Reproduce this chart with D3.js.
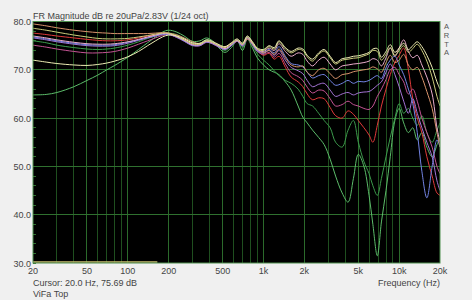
<!DOCTYPE html>
<html><head><meta charset="utf-8">
<script src="https://cdn.jsdelivr.net/npm/d3@7"></script>
<style>html,body{margin:0;padding:0;background:#f0f0f0;}svg{display:block;}</style>
</head><body>
<svg id="c" width="472" height="300"></svg>
<script>
const freqs = [20,25,30,40,50,60,70,80,100,120,140,160,180,200,
  230,260,300,340,380,420,470,520,580,640,700,760,830,900,
  1000,1100,1200,1300,1450,1600,1800,1950,2100,2300,2550,2800,3100,3400,3800,4200,4600,5000,5500,6000,6400,6900,7400,8000,8600,9300,10000,10800,11700,12600,13600,14700,16000,17500,19000,20000];

const curveA = [72.0,71.6,71.3,71.0,70.9,71.1,71.4,71.8,72.7,73.8,75.0,76.0,76.8,77.2,
  77.0,76.4,75.6,75.5,76.2,75.9,75.2,74.8,75.6,76.4,75.5,77.0,75.8,74.5,
  74.2,75.0,74.6,76.0,74.6,73.8,74.5,74.3,73.0,72.2,73.5,74.2,72.8,71.5,72.3,72.5,72.8,72.9,73.2,73.6,74.3,74.4,72.6,73.8,75.2,73.6,74.5,75.5,74.2,75.0,75.8,74.8,73.0,70.5,67.5,66.0];
const curveB = [78.6,78.2,77.8,77.2,76.8,76.5,76.4,76.4,76.5,76.8,77.1,77.4,77.6,77.6,
  76.9,76.2,75.4,75.3,76.0,75.7,75.0,74.6,75.4,76.2,75.3,76.8,75.6,74.3,
  74.0,74.8,74.3,75.8,74.3,73.5,74.2,74.0,72.7,71.8,73.2,73.9,72.5,71.2,72.0,72.2,72.4,72.5,72.9,73.3,74.0,73.8,72.0,73.2,74.6,73.0,74.0,75.0,73.6,74.4,75.3,74.0,71.8,68.5,64.5,62.5];
const curveC = [79.5,79.1,78.7,78.2,77.9,77.7,77.6,77.5,77.5,77.5,77.5,77.6,77.7,77.6,
  77.2,76.6,75.8,75.4,75.9,75.6,75.0,74.7,75.5,76.0,75.2,76.4,75.4,74.3,
  73.5,74.0,73.2,74.3,72.5,71.0,70.6,70.8,69.5,68.8,70.0,70.3,69.2,68.2,69.0,69.2,69.6,69.8,70.0,70.2,70.6,70.2,69.5,71.5,73.0,71.5,72.0,73.2,71.0,70.0,70.5,68.5,65.5,62.0,57.0,54.0];
const curveD = [77.0,76.6,76.2,75.7,75.4,75.3,75.3,75.4,75.8,76.3,76.8,77.2,77.5,77.5,
  76.9,76.1,75.2,75.2,75.9,75.6,74.9,74.4,75.2,76.1,75.2,76.7,75.5,74.2,
  73.8,74.5,74.0,75.4,73.8,72.8,73.5,73.2,71.8,70.8,72.0,72.6,71.2,70.0,70.8,71.0,71.2,71.3,71.5,71.8,72.3,72.0,70.8,72.5,74.5,72.8,74.5,76.2,73.8,72.5,73.0,71.0,68.5,65.0,58.0,55.0];
const curveE = [76.8,76.4,76.0,75.5,75.2,75.1,75.1,75.2,75.7,76.2,76.7,77.1,77.4,77.4,
  76.8,76.0,75.1,75.1,75.8,75.5,74.8,74.3,75.1,76.0,75.0,76.6,75.3,74.0,
  73.6,74.2,73.5,74.8,72.8,71.3,71.0,70.6,69.5,68.3,68.8,69.0,67.8,66.8,67.2,67.8,67.2,67.6,67.5,67.8,68.3,68.8,68.2,70.5,72.0,72.8,71.0,69.0,66.0,63.0,57.0,49.0,43.5,50.0,55.5,54.0];
const curveF = [76.6,76.2,75.8,75.3,75.0,74.9,74.9,75.0,75.5,76.1,76.6,77.0,77.3,77.3,
  76.7,75.9,75.0,75.0,75.7,75.4,74.7,74.2,75.0,75.9,74.9,76.5,75.2,73.9,
  73.4,74.0,73.0,74.0,72.0,70.5,69.8,69.2,67.8,66.5,67.0,67.2,65.8,64.5,65.0,65.3,64.8,65.2,65.4,65.5,66.0,66.8,67.5,69.5,71.2,69.0,66.5,63.5,61.0,64.0,61.0,58.0,55.0,52.0,47.0,45.0];
const curveG = [77.6,77.3,77.0,76.6,76.3,76.1,76.0,76.0,76.2,76.6,77.0,77.3,77.5,77.5,
  76.9,76.2,75.3,75.2,75.8,75.5,74.8,74.4,75.1,75.9,75.0,76.5,75.3,74.0,
  73.0,73.4,72.2,72.8,70.5,68.5,67.5,66.5,65.0,63.8,64.2,64.0,62.2,60.5,60.0,61.5,60.8,59.5,58.0,56.5,55.0,58.5,62.5,66.0,69.0,71.5,73.0,74.5,70.0,64.0,60.0,57.0,52.0,48.0,44.5,44.0];
const curveH = [75.1,74.7,74.3,73.8,73.5,73.5,73.6,73.8,74.5,75.3,76.0,76.6,77.1,77.3,
  76.7,76.0,75.1,75.0,75.7,75.4,74.7,74.3,75.1,75.9,75.0,76.4,75.2,73.8,
  73.2,73.6,72.6,73.4,71.2,69.4,68.6,67.8,66.4,65.2,65.8,65.6,64.0,62.5,62.8,63.5,62.8,62.5,62.0,61.8,62.5,64.5,66.0,68.0,70.0,70.5,69.0,67.5,65.0,66.0,63.5,60.0,57.0,54.0,50.0,48.5];
const curveI = [76.0,75.6,75.1,74.6,74.3,74.2,74.3,74.5,75.1,75.8,76.5,77.0,77.4,77.6,
  77.3,76.5,75.5,75.5,76.2,75.8,74.8,74.0,75.0,76.0,74.6,76.5,75.0,73.3,
  72.0,71.0,69.8,68.8,67.8,67.2,66.0,64.5,63.0,62.5,61.0,59.5,58.0,55.0,54.0,57.5,59.5,55.0,51.0,48.5,46.0,44.0,47.5,52.0,56.0,60.0,63.0,61.0,62.0,60.0,58.5,60.5,57.0,55.0,57.5,59.0];
const curveJ = [64.8,64.9,65.3,66.5,67.8,68.9,70.0,70.9,72.6,74.2,75.6,76.8,77.8,78.2,
  77.8,77.0,75.9,76.0,76.6,76.0,74.5,73.6,74.6,76.0,74.0,76.3,74.5,72.5,
  71.0,70.0,69.5,69.0,67.5,65.8,62.5,60.2,59.0,57.5,56.0,54.5,51.5,48.0,44.5,42.6,47.5,52.5,50.0,44.0,38.0,31.5,38.5,45.0,52.0,59.5,62.0,59.0,57.0,58.0,55.5,57.0,54.0,52.0,54.5,56.0];

// bottom marker trace (yellow line on the floor of the plot)
const markerFreqs = [20, 165];
const markerValues = [30, 30];

const yTicks = [80, 70, 60, 50, 40, 30];
const xLabelFreqs = [20, 50, 100, 200, 500, 1000, 2000, 5000, 10000, 20000];
const xLabelText = ["20", "50", "100", "200", "500", "1k", "2k", "5k", "10k", "20k"];
const gridFreqs = [30,40,50,60,70,80,90,100,200,300,400,500,600,700,800,900,1000,2000,3000,4000,5000,6000,7000,8000,9000,10000];
const brandLetters = ["A", "R", "T", "A"];

const seriesList = [curveJ, curveI, curveG, curveH, curveF, curveE, curveC, curveD, curveB, curveA];
const seriesColors = ["#5cbc6a", "#3c9a4c", "#e03a3a", "#c45494", "#a474d4", "#7384e4", "#d8936c", "#eaaccc", "#cccc7c", "#eeedb4"];

const svg = d3.select("#c");
const L = 33, R = 440, T = 21.5, B = 263;
const x = d3.scaleLog().domain([20, 20000]).range([L, R]);
const y = d3.scaleLinear().domain([30, 80]).range([B, T]);
const font = "Liberation Sans, Arial, sans-serif";

svg.append("rect").attr("x", L).attr("y", T).attr("width", R - L).attr("height", B - T).attr("fill", "#000");

// vertical grid
svg.append("g").selectAll("line").data(gridFreqs).join("line")
  .attr("x1", d => x(d)).attr("x2", d => x(d)).attr("y1", T).attr("y2", B)
  .attr("stroke", d => xLabelFreqs.includes(d) ? "#2b6a2b" : "#1f4f1f").attr("stroke-width", 1)
  .attr("shape-rendering", "crispEdges");
// horizontal grid
svg.append("g").selectAll("line").data([70, 60, 50, 40]).join("line")
  .attr("x1", L).attr("x2", R).attr("y1", d => y(d)).attr("y2", d => y(d))
  .attr("stroke", "#2f702f").attr("stroke-width", 1).attr("shape-rendering", "crispEdges");
// minor y ticks
svg.append("g").selectAll("line").data(d3.range(30, 80, 2)).join("line")
  .attr("x1", L).attr("x2", L + 3).attr("y1", d => y(d)).attr("y2", d => y(d))
  .attr("stroke", "#2f702f").attr("shape-rendering", "crispEdges");

svg.append("clipPath").attr("id", "pc").append("rect")
  .attr("x", L).attr("y", T).attr("width", R - L).attr("height", B - T);

const line = d3.line().x((d, i) => x(freqs[i])).y(d => y(d)).curve(d3.curveCatmullRom.alpha(0.5));
const g = svg.append("g").attr("clip-path", "url(#pc)");
seriesList.forEach((s, k) => {
  g.append("path").attr("d", line(s)).attr("fill", "none")
    .attr("stroke", seriesColors[k]).attr("stroke-width", 1);
});
g.append("path").attr("d", d3.line().x((d, i) => x(markerFreqs[i])).y(d => y(d) - 1)(markerValues))
  .attr("stroke", "#c8c070").attr("stroke-width", 1.5).attr("fill", "none");

// border
svg.append("rect").attr("x", L).attr("y", T).attr("width", R - L).attr("height", B - T)
  .attr("fill", "none").attr("stroke", "#4f8f4f").attr("stroke-width", 1);

// y labels
svg.append("g").selectAll("text").data(yTicks).join("text")
  .attr("x", 31).attr("y", d => y(d) + 3.5).attr("text-anchor", "end")
  .attr("font-family", font).attr("font-size", 9).attr("fill", "#444").text(d => d.toFixed(1));
// x labels
svg.append("g").selectAll("text").data(xLabelFreqs).join("text")
  .attr("x", d => x(d)).attr("y", 274).attr("text-anchor", "middle")
  .attr("font-family", font).attr("font-size", 9).attr("fill", "#444").text((d, i) => xLabelText[i]);

svg.append("text").attr("x", 33).attr("y", 18.5).attr("font-family", font).attr("font-size", 9)
  .attr("fill", "#444").text("FR Magnitude dB re 20uPa/2.83V (1/24 oct)");
svg.append("text").attr("x", 440).attr("y", 286).attr("text-anchor", "end").attr("font-family", font)
  .attr("font-size", 9).attr("fill", "#444").text("Frequency (Hz)");
svg.append("text").attr("x", 33).attr("y", 286).attr("font-family", font).attr("font-size", 9)
  .attr("fill", "#444").text("Cursor: 20.0 Hz, 75.69 dB");
svg.append("text").attr("x", 33).attr("y", 296.5).attr("font-family", font).attr("font-size", 9)
  .attr("fill", "#444").text("ViFa Top");

// vertical "ARTA" brand letters
svg.append("g").selectAll("text").data(brandLetters).join("text")
  .attr("x", 446.5).attr("y", (d, i) => 29 + i * 8.8).attr("text-anchor", "middle")
  .attr("font-family", font).attr("font-size", 7.5).attr("fill", "#555").text(d => d);
</script>
</body></html>
